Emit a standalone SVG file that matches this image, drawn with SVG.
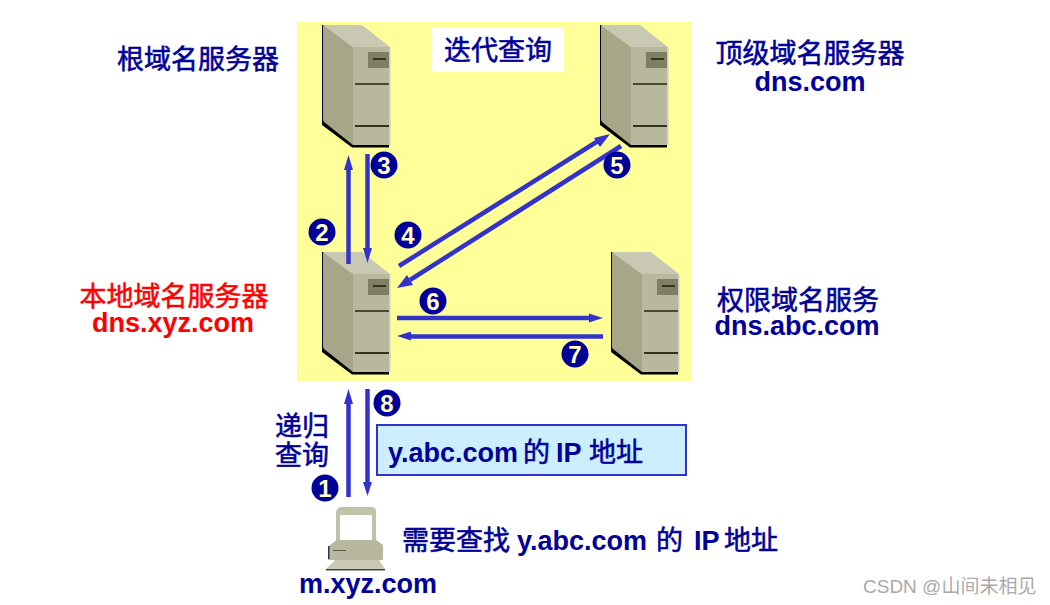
<svg xmlns="http://www.w3.org/2000/svg" xmlns:xlink="http://www.w3.org/1999/xlink" width="1050" height="605" viewBox="0 0 1050 605">
<style>
text{font-family:"Liberation Sans","Noto Sans CJK SC",sans-serif}
.t{font-size:27px;font-weight:700;fill:#000099}
.m{text-anchor:middle}
.k{font-size:27px;font-weight:400;fill:#000099;stroke:#000099;stroke-width:.55}
.r{fill:#ff0000}
.kr{fill:#ff0000;stroke:#ff0000}
.n{font-size:24px;font-weight:700;fill:#ffffcc;text-anchor:middle}
.c{stroke:#3333cc;stroke-width:4.500;fill:none}
.h{fill:#3333cc}
</style>
<defs>
<circle id="dot" r="13.500" fill="#000099"/>
<g id="srv">
<path d="M22 25 V125 L52 147.500 H89 V144 H55 L24 121 V25Z" fill="#000"/>
<path d="M23 25 H62 L90 47 H53Z" fill="#c9c9b3"/>
<path d="M23 25 L53 47 V145 L24 122 L23 120Z" fill="#a6a689"/>
<path d="M53 47 H90 V145 H53Z" fill="#b8b89e"/>
<rect x="89" y="47" width="1.500" height="98" fill="#cfcfb8"/>
<rect x="68" y="52" width="21" height="16" fill="#7f7f63"/>
<rect x="73" y="58" width="13" height="2" fill="#333322"/>
<rect x="55" y="83" width="34" height="2" fill="#4a4a36"/>
<rect x="55" y="125" width="34" height="2" fill="#333322"/>
</g>
</defs>
<rect width="1050" height="605" fill="#fff"/>
<rect x="297" y="22" width="395" height="359" fill="#ffff99"/>
<rect x="432" y="28" width="132" height="44" fill="#fff"/>
<text class="k m" x="498" y="60">迭代查询</text>

<use id="root-server" xlink:href="#srv" href="#srv" x="300" y="0"/>
<use id="tld-server" xlink:href="#srv" href="#srv" x="578" y="0"/>
<use id="local-server" xlink:href="#srv" href="#srv" x="300" y="227"/>
<use id="auth-server" xlink:href="#srv" href="#srv" x="589" y="227"/>

<g id="pc">
<path d="M336 512 Q337 507 342 507 H371 Q376 507 376 512 V542 H336Z" fill="#c2c2a8"/>
<rect x="340" y="515" width="32" height="25" fill="#fff"/>
<path d="M330 545 L337 540 H376 L383 545 V560 H328 V547Z" fill="#b8b89e"/>
<rect x="328" y="546" width="1.500" height="13" fill="#333"/>
<rect x="333" y="550" width="13" height="1" fill="#555"/>
<path d="M335 560 H379 L385 569 H326Z" fill="#c9c9b3"/>
<rect x="326" y="569" width="59" height="1.500" fill="#444"/>
</g>

<g id="connectors">
<path class="c" d="M348.500 264 V168"/><path class="h" d="M348.500 155 L344 170 H353Z"/>
<path class="c" d="M367.500 154 V250"/><path class="h" d="M367.500 263 L363 248 H372Z"/>
<path class="c" d="M399 266 L598 141"/><path class="h" d="M610 134 L594 138 L600 147Z"/>
<path class="c" d="M621 146 L410 280"/><path class="h" d="M397 288 L413 285 L407 275Z"/>
<path class="c" d="M397 318 H592"/><path class="h" d="M603 318 L589 313.500 V322.500Z"/>
<path class="c" d="M603 336.500 H408"/><path class="h" d="M397 336 L411 331.500 V340.500Z"/>
<path class="c" d="M348.500 497 V402"/><path class="h" d="M348.500 389 L344 404 H353Z"/>
<path class="c" d="M367.500 389 V484"/><path class="h" d="M367.500 496 L363 482 H372Z"/>
</g>

<g id="num1"><use xlink:href="#dot" href="#dot" x="325" y="488"/><text class="n" x="325" y="496.500">1</text></g>
<g id="num2"><use xlink:href="#dot" href="#dot" x="322" y="232"/><text class="n" x="322" y="240.500">2</text></g>
<g id="num3"><use xlink:href="#dot" href="#dot" x="384" y="165"/><text class="n" x="384" y="173.500">3</text></g>
<g id="num4"><use xlink:href="#dot" href="#dot" x="408" y="235"/><text class="n" x="408" y="243.500">4</text></g>
<g id="num5"><use xlink:href="#dot" href="#dot" x="617" y="165"/><text class="n" x="617" y="173.500">5</text></g>
<g id="num6"><use xlink:href="#dot" href="#dot" x="433" y="301"/><text class="n" x="433" y="309.500">6</text></g>
<g id="num7"><use xlink:href="#dot" href="#dot" x="575" y="354"/><text class="n" x="575" y="362.500">7</text></g>
<g id="num8"><use xlink:href="#dot" href="#dot" x="387" y="403"/><text class="n" x="387" y="411.500">8</text></g>

<text class="k m" x="198" y="69">根域名服务器</text>
<text class="k m" x="810" y="63">顶级域名服务器</text>
<text class="t m" x="810" y="91">dns.com</text>
<text class="k kr m" x="174" y="306">本地域名服务器</text>
<text class="t r m" x="173" y="332">dns.xyz.com</text>
<text class="k m" x="798" y="310">权限域名服务</text>
<text class="t m" x="797" y="335">dns.abc.com</text>
<text class="k m" x="302" y="436">递归</text>
<text class="k m" x="302" y="465">查询</text>

<g id="result-box">
<rect x="377" y="425" width="309" height="50" fill="#cceeff" stroke="#3333cc" stroke-width="2"/>
<text class="t" x="388" y="462">y.abc.com</text>
<text class="k" x="523" y="462">的</text>
<text class="t" x="556" y="462">IP</text>
<text class="k" x="589" y="462">地址</text>
</g>
<text class="k" x="402" y="550">需要查找</text>
<text class="t" x="517" y="550">y.abc.com</text>
<text class="k" x="656" y="550">的</text>
<text class="t" x="694" y="550">IP</text>
<text class="k" x="724" y="550">地址</text>
<text class="t m" x="368" y="593">m.xyz.com</text>
<text x="863" y="593" font-size="19" fill="#aaa">CSDN @山间未相见</text>
</svg>
